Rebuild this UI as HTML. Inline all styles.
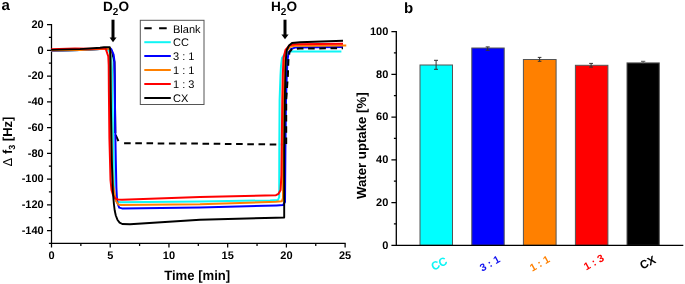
<!DOCTYPE html>
<html><head><meta charset="utf-8"><style>
html,body{margin:0;padding:0;background:#fff;width:685px;height:284px;overflow:hidden}
svg{display:block;will-change:transform}
text{font-family:"Liberation Sans",sans-serif;text-rendering:geometricPrecision}
.b{font-weight:bold}
</style></head><body>
<svg width="685" height="284" viewBox="0 0 685 284">
<!-- panel labels -->
<text x="1.5" y="10" class="b" font-size="15">a</text>
<text x="404" y="12.6" class="b" font-size="15">b</text>

<!-- ===== Panel a axes ===== -->
<g stroke="#000" stroke-width="1.25" fill="none">
  <path d="M51.5 24 V243.4 H345.7"/>
  <path d="M47 24.54H51.5M47 50.30H51.5M47 76.06H51.5M47 101.81H51.5M47 127.57H51.5M47 153.32H51.5M47 179.08H51.5M47 204.84H51.5M47 230.59H51.5"/>
  <path d="M48.9 37.42H51.5M48.9 63.18H51.5M48.9 88.93H51.5M48.9 114.69H51.5M48.9 140.45H51.5M48.9 166.20H51.5M48.9 191.96H51.5M48.9 217.71H51.5M48.9 243.47H51.5"/>
  <path d="M51.50 243.4V247.6M110.22 243.4V247.6M168.95 243.4V247.6M227.67 243.4V247.6M286.40 243.4V247.6M345.12 243.4V247.6"/>
  <path d="M80.86 243.4V246.1M139.59 243.4V246.1M198.31 243.4V246.1M257.04 243.4V246.1M315.76 243.4V246.1"/>
</g>
<g class="b" font-size="11" text-anchor="end">
  <text x="43.7" y="27.84">20</text>
  <text x="43.7" y="53.60">0</text>
  <text x="43.7" y="79.36">-20</text>
  <text x="43.7" y="105.11">-40</text>
  <text x="43.7" y="130.87">-60</text>
  <text x="43.7" y="156.62">-80</text>
  <text x="43.7" y="182.38">-100</text>
  <text x="43.7" y="208.14">-120</text>
  <text x="43.7" y="233.89">-140</text>
</g>
<g class="b" font-size="11" text-anchor="middle">
  <text x="51.50" y="258.7">0</text>
  <text x="110.22" y="258.7">5</text>
  <text x="168.95" y="258.7">10</text>
  <text x="227.67" y="258.7">15</text>
  <text x="286.40" y="258.7">20</text>
  <text x="345.12" y="258.7">25</text>
</g>
<text x="197.2" y="279.5" class="b" font-size="13.6" text-anchor="middle" textLength="66" lengthAdjust="spacingAndGlyphs">Time [min]</text>
<text transform="translate(11.8,141.5) rotate(-90)" class="b" font-size="13" text-anchor="middle"><tspan font-weight="normal">Δ</tspan> f<tspan font-size="9" dy="3">3</tspan><tspan dy="-3"> [Hz]</tspan></text>

<!-- D2O / H2O -->
<text x="103" y="10.6" class="b" font-size="13.6">D<tspan font-size="10" dy="3.9">2</tspan><tspan dy="-3.9">O</tspan></text>
<text x="271" y="10.6" class="b" font-size="13.6">H<tspan font-size="10" dy="3.9">2</tspan><tspan dy="-3.9">O</tspan></text>
<path d="M113 19.7V38" stroke="#000" stroke-width="3"/>
<path d="M109.6 37.6H116.6L113 42.3Z" fill="#000"/>
<path d="M285 19.7V35" stroke="#000" stroke-width="3"/>
<path d="M281.4 34.4H288.6L285 39.2Z" fill="#000"/>

<!-- curves -->
<g fill="none" stroke-width="2" stroke-linejoin="round" stroke-linecap="butt">
  <!-- Blank (left part, under everything) -->
  <path stroke="#000" d="M51.2 50.6 L80 50 L104 48.8 L110 48.6 L112 52 L114.5 62 L115.3 133"/>
  <path stroke="#000" d="M115.6 134.8 L118.4 141.2"/>
  <path stroke="#000" stroke-dasharray="6.6 4.6" d="M124.1 143.2 L200 143.6 L278 144.5 L285 144.4"/>
  <!-- CC cyan -->
  <path stroke="#0ff5f5" d="M51.2 50.8 L80 50.1 L100 49.1 L104 49 L107 49.2 L109 50.8 L110.5 54.5 L111.4 58 L112 70 L112.3 92 L113.1 138 L113.6 160 L114 190 L114.8 198 L117 201.8 L121 202.2 L200 201.5 L270 200.4 L278 200 L279.2 197 L279.3 150 L279.6 100 L280.5 75 L281 66 L282 58 L285 53.5 L289 51.6 L341.4 51.4"/>
  <!-- 3:1 blue -->
  <path stroke="#0000ff" d="M51.2 50.7 L80 50 L100 49 L104 48.8 L110.5 48.6 L111.5 49.5 L113.6 54.7 L114.3 60 L114.7 75 L114.8 92 L115.4 138 L115.8 160 L116.4 188 L116.8 196 L117.4 203 L119.2 207.6 L122 208.4 L200 207.6 L276.6 205.4 L283 205.1 L285 202 L285.4 150 L286 100 L286.8 75 L287.5 60 L288.5 53 L291 49 L295 47.6 L343 47.1"/>
  <!-- Blank (right rise, over blue) -->
  <path stroke="#000" stroke-dasharray="6.6 4.6" d="M286.2 144 L286.2 100 L287.9 75 L288.4 60 L289.5 52 L292 49.2 L300 48.6 L343 48.2"/>
  <!-- 1:1 orange -->
  <path stroke="#ff8000" d="M51.2 50.6 L80 49.9 L100 49 L104 48.9 L109.5 48.5 L110.3 51 L110.7 92 L111.4 138 L111.8 160 L113 185 L114.5 193 L116 201 L118.5 204.6 L121 205 L200 204.3 L276 201.7 L281.8 201.3 L283 198 L283.1 150 L283.6 100 L284.4 75 L285 60 L286.5 51 L290 46.8 L295 45.8 L346.3 45.4"/>
  <!-- 1:3 red -->
  <path stroke="#ff0000" d="M51.2 49.3 L75 48.6 L90 48.8 L100 48.6 L104 48.4 L105.8 48.9 L108.3 56.5 L108.7 65 L108.9 92 L109.4 138 L110 160 L110.5 180 L111.5 190 L113 195 L115 198.3 L118 199.5 L122 199.7 L200 197.1 L276 195.2 L278.5 193.8 L280.6 190 L281.4 175 L281.8 140 L282.3 100 L282.8 75 L283.5 58 L285.5 50 L289.5 45.3 L295 44.2 L343 43.8"/>
  <!-- CX black -->
  <path stroke="#000" stroke-width="1.9" d="M51.2 49.9 L80 49.1 L100 47.8 L104 47.3 L109.8 47.3 L110.2 50 L110.4 60 L110.7 92 L111.4 138 L111.8 160 L112.8 190 L113.3 197 L113.9 204 L114.7 210.5 L115.8 215.5 L117.4 219.7 L119.6 222.6 L122.3 224 L130 224.3 L200 219.8 L276 217.7 L284.2 217.6 L284.2 150 L284.8 100 L285.5 70 L286 58 L286.8 50 L289 45.5 L292 43 L300 42.2 L343 40.8"/>
</g>

<!-- legend -->
<rect x="140.3" y="20.3" width="63.7" height="84.2" fill="#fff" stroke="#555" stroke-width="1"/>
<g stroke-width="2">
  <path d="M144.3 28.2H151.7M159.1 28.2H166.7" stroke="#000"/>
  <path d="M144.3 42.2H170.8" stroke="#0ff5f5"/>
  <path d="M144.3 56H170.8" stroke="#0000ff"/>
  <path d="M144.3 70H170.8" stroke="#ff8000"/>
  <path d="M144.3 84H170.8" stroke="#ff0000"/>
  <path d="M144.3 98H170.8" stroke="#000"/>
</g>
<g font-size="11">
  <text x="173" y="32.9">Blank</text>
  <text x="173" y="46.3">CC</text>
  <text x="173" y="60.3">3 : 1</text>
  <text x="173" y="74.3">1 : 1</text>
  <text x="173" y="88.3">1 : 3</text>
  <text x="173" y="102.3">CX</text>
</g>

<!-- ===== Panel b ===== -->
<!-- bars -->
<g stroke="#555" stroke-width="1">
  <rect x="420" y="65" width="32.5" height="180.3" fill="#00ffff"/>
  <rect x="471.8" y="48" width="32.4" height="197.3" fill="#0000ff"/>
  <rect x="523.4" y="59.5" width="32.7" height="185.8" fill="#ff8000"/>
  <rect x="575.4" y="65.3" width="32.5" height="180" fill="#ff0000"/>
  <rect x="627" y="62.9" width="32.3" height="182.4" fill="#000"/>
</g>
<!-- error bars -->
<g stroke="#333" stroke-width="1" fill="none">
  <path d="M436.1 60.3V69.3M434 60.3H438M434 69.3H438"/>
  <path d="M487.7 46.9V50.3M485.7 46.9H489.7M485.7 50.3H489.7"/>
  <path d="M539.6 57.4V61.3M537.8 57.4H541.4M537.8 61.3H541.4"/>
  <path d="M591.1 63.4V67.1M589.2 63.4H593M589.2 67.1H593"/>
  <path d="M643.1 61.3V63.5M641 61.3H645.3" stroke="#555"/>
</g>
<g stroke="#000" stroke-width="1.3" fill="none">
  <path d="M396.3 31 V245.3 H683.3"/>
  <path d="M391.4 245.30H396.3M391.4 202.56H396.3M391.4 159.82H396.3M391.4 117.08H396.3M391.4 74.34H396.3M391.4 31.60H396.3"/>
  <path d="M393.9 223.93H396.3M393.9 181.19H396.3M393.9 138.45H396.3M393.9 95.71H396.3M393.9 52.97H396.3"/>
</g>
<g class="b" font-size="11" text-anchor="end">
  <text x="388.3" y="34.90">100</text>
  <text x="388.3" y="77.64">80</text>
  <text x="388.3" y="120.38">60</text>
  <text x="388.3" y="163.12">40</text>
  <text x="388.3" y="205.86">20</text>
  <text x="388.3" y="248.60">0</text>
</g>
<text transform="translate(365.8,145.7) rotate(-90)" class="b" font-size="13.2" text-anchor="middle">Water uptake [%]</text>
<g class="b" text-anchor="middle">
  <text transform="translate(439.1,263.6) rotate(-26)" dy="4" font-size="11.5" fill="#0ff5f5">CC</text>
  <text transform="translate(489.7,263.3) rotate(-29)" dy="3.8" font-size="10.5" fill="#1010f0">3 : 1</text>
  <text transform="translate(539.5,263.2) rotate(-29)" dy="3.8" font-size="10.5" fill="#ff8000">1 : 1</text>
  <text transform="translate(593.7,262) rotate(-29)" dy="3.8" font-size="10.5" fill="#ff0000">1 : 3</text>
  <text transform="translate(647.7,262.3) rotate(-26)" dy="4" font-size="11.5" fill="#000">CX</text>
</g>
</svg>
</body></html>
